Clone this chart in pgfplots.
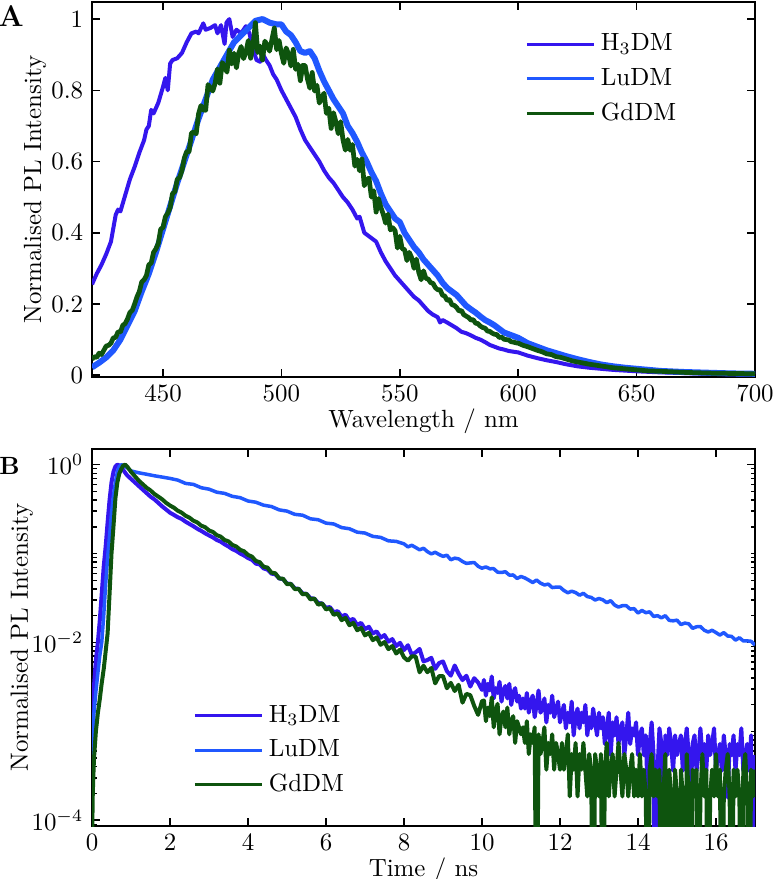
\documentclass[border=0pt]{standalone}
\usepackage{pgfplots}
\pgfplotsset{compat=1.18}
\usepackage{pgfplotstable}

\definecolor{hdm}{RGB}{52,22,238}
\definecolor{ludm}{RGB}{32,88,255}
\definecolor{gddm}{RGB}{14,84,14}

% ---------- steady-state PL spectra ----------
\pgfplotstableread{
x y
420 0.255
422 0.285
424 0.31
426 0.34
428 0.375
430 0.45
431 0.465
432 0.46
434 0.505
436 0.55
438 0.585
440 0.625
442 0.66
443 0.69
444 0.70
445 0.745
446 0.735
448 0.765
450 0.81
451 0.835
452 0.80
453 0.875
454 0.885
456 0.89
458 0.905
460 0.935
462 0.96
464 0.965
465 0.96
467 0.988
468 0.97
470 0.975
472 0.983
473 0.96
474.5 0.983
476 0.93
476.8 0.99
478 1.0
479.4 0.95
481 0.97
483 0.96
485 0.98
486.5 0.96
488 0.915
489.5 0.885
491 0.88
492 0.903
493.5 0.885
495 0.87
496.5 0.845
498 0.83
500 0.80
502 0.775
504 0.75
506 0.725
508 0.69
510 0.66
512 0.64
514 0.62
516 0.60
518 0.575
520 0.555
522 0.54
524 0.52
526 0.50
528 0.485
530 0.465
532 0.44
533 0.445
535 0.40
537 0.39
540 0.375
542 0.345
544 0.32
546 0.30
548 0.28
550 0.265
552 0.25
554 0.235
556 0.22
558 0.21
560 0.195
562 0.18
564 0.17
566 0.163
567 0.148
568 0.155
570 0.148
572 0.14
574 0.132
576 0.122
578 0.118
580 0.112
582 0.105
584 0.10
586 0.093
588 0.085
590 0.08
592 0.075
594 0.072
596 0.068
598 0.066
600 0.064
604 0.055
608 0.048
612 0.042
616 0.037
620 0.031
625 0.025
630 0.021
635 0.018
640 0.015
645 0.013
650 0.011
660 0.008
670 0.006
680 0.004
690 0.003
700 0.002
}\specH

\pgfplotstableread{
x y
420 0.022
423 0.035
426 0.05
429 0.07
432 0.10
435 0.14
438 0.18
441 0.235
444 0.285
447 0.345
450 0.41
453 0.475
456 0.54
459 0.60
462 0.66
465 0.72
468 0.775
471 0.83
474 0.865
477 0.90
480 0.935
483 0.955
486 0.975
489 0.995
492 1.0
495 0.99
498 0.985
500 0.985
502 0.965
504 0.955
506 0.935
508 0.91
510 0.905
512 0.91
514 0.89
516 0.855
518 0.825
520 0.80
522 0.775
524 0.755
526 0.735
528 0.70
530 0.68
532 0.655
534 0.625
536 0.60
538 0.57
540 0.545
542 0.51
544 0.48
546 0.46
548 0.44
550 0.43
552 0.40
554 0.38
556 0.36
558 0.345
560 0.325
562 0.31
564 0.295
566 0.28
568 0.26
570 0.245
572 0.235
574 0.225
576 0.21
578 0.195
580 0.185
582 0.176
584 0.165
586 0.155
588 0.148
590 0.14
592 0.13
594 0.12
596 0.115
598 0.11
600 0.105
604 0.09
608 0.08
612 0.07
616 0.062
620 0.054
625 0.045
630 0.037
635 0.03
640 0.025
645 0.021
650 0.018
655 0.015
660 0.012
670 0.009
680 0.007
690 0.005
700 0.004
}\specL

\pgfplotstableread{
x y
420 0.045
421 0.052
422 0.05
423 0.062
424 0.058
425 0.07
426 0.082
427 0.084
428 0.09
429 0.105
430 0.106
431 0.122
432 0.121
433 0.14
434 0.145
435 0.158
436 0.176
437 0.182
438 0.2
439 0.22
440 0.235
441 0.262
442 0.268
443 0.28
444 0.31
445 0.315
446 0.345
447 0.355
448 0.37
449 0.41
450 0.415
451 0.445
452 0.455
453 0.47
454 0.51
455 0.515
456 0.55
457 0.555
458 0.575
459 0.61
460 0.628
461 0.628
462 0.68
463 0.683
464 0.678
465 0.734
466 0.757
467 0.745
468 0.744
469 0.816
470 0.807
471 0.798
472 0.82
473 0.86
474 0.82
475 0.878
476 0.866
477 0.851
478 0.913
479 0.874
480 0.904
481 0.863
482 0.905
483 0.923
484 0.889
485 0.906
486 0.94
487 0.89
488 0.926
489 0.99
490 0.906
491 0.924
492 0.885
493 0.938
494 0.927
495 0.91
496 0.943
497 0.975
498 0.914
499 0.94
500 0.903
501 0.876
502 0.919
503 0.902
504 0.868
505 0.915
506 0.859
507 0.873
508 0.827
509 0.87
510 0.87
511 0.832
512 0.806
513 0.85
514 0.798
515 0.814
516 0.764
517 0.78
518 0.792
519 0.735
520 0.75
521 0.693
522 0.737
523 0.711
524 0.678
525 0.712
526 0.661
527 0.632
528 0.662
529 0.632
530 0.648
531 0.587
532 0.606
533 0.574
534 0.607
535 0.532
536 0.55
537 0.553
538 0.5
539 0.518
540 0.458
541 0.496
542 0.471
543 0.452
544 0.427
545 0.452
546 0.408
547 0.414
548 0.406
549 0.357
550 0.39
551 0.355
552 0.353
553 0.322
554 0.345
555 0.33
556 0.30
557 0.326
558 0.289
559 0.268
560 0.293
561 0.272
562 0.27
563 0.26
564 0.258
565 0.246
566 0.24
567 0.24
568 0.225
569 0.222
570 0.21
571 0.212
572 0.198
573 0.196
574 0.19
575 0.18
576 0.182
577 0.17
578 0.166
579 0.162
580 0.155
581 0.156
582 0.146
583 0.145
584 0.138
585 0.134
586 0.132
587 0.124
588 0.123
589 0.118
590 0.115
591 0.114
592 0.106
593 0.107
594 0.101
595 0.10
596 0.099
597 0.094
598 0.093
599 0.091
600 0.09
602 0.084
604 0.08
606 0.075
608 0.07
610 0.066
612 0.06
614 0.058
616 0.052
618 0.05
620 0.046
623 0.04
626 0.036
630 0.031
635 0.026
640 0.021
645 0.018
650 0.015
655 0.012
660 0.011
670 0.008
680 0.006
690 0.005
700 0.004
}\specG

% ---------- time-resolved PL decays ----------
\pgfplotstableread{
t y
0.00 7.0e-4
0.03 2.3e-3
0.05 3.2e-3
0.10 6.3e-3
0.15 1.0e-2
0.20 1.78e-2
0.25 3.55e-2
0.30 7.1e-2
0.35 0.12
0.40 0.224
0.45 0.40
0.50 0.63
0.55 0.83
0.60 0.955
0.65 1.0
0.70 0.98
0.80 0.871
0.90 0.76
1.00 0.692
1.10 0.631
1.20 0.575
1.30 0.525
1.40 0.479
1.50 0.437
1.60 0.407
1.70 0.372
1.80 0.339
1.90 0.313
2.00 0.288
2.10 0.272
2.20 0.256
2.30 0.245
2.40 0.228
2.50 0.215
2.60 0.203
2.70 0.190
2.80 0.180
2.90 0.169
3.00 0.160
3.10 0.152
3.20 0.142
3.30 0.136
3.40 0.127
3.50 0.120
3.60 0.112
3.70 0.107
3.80 0.100
3.90 0.095
4.00 0.089
4.10 0.085
4.20 0.077
4.30 0.0755
4.40 0.068
4.50 0.066
4.60 0.0595
4.70 0.0585
4.80 0.0525
4.90 0.0515
5.00 0.046
5.10 0.0455
5.20 0.0405
5.30 0.040
5.40 0.0355
5.50 0.0352
5.60 0.0315
5.70 0.031
5.80 0.0278
5.90 0.0274
6.00 0.0245
6.10 0.0250
6.20 0.0218
6.30 0.0225
6.40 0.0195
6.50 0.0205
6.60 0.0176
6.70 0.0184
6.80 0.0157
6.90 0.0166
7.00 0.0141
7.10 0.0150
7.20 0.0126
7.30 0.0133
7.40 0.0113
7.50 0.0121
7.60 0.0102
7.70 0.0109
7.80 0.0091
7.90 0.0099
8.00 0.0082
8.10 0.0093
8.20 0.00726
8.30 0.00774
8.40 0.00844
8.50 0.00612
8.60 0.00634
8.70 0.00671
8.80 0.00504
8.90 0.00586
9.00 0.00611
9.10 0.00475
9.20 0.00423
9.30 0.0055
9.40 0.00445
9.50 0.00377
9.60 0.00422
9.70 0.00319
9.80 0.00396
9.90 0.00354
10.00 0.00292
10.05 3.78e-3
10.10 2.52e-3
10.15 3.42e-3
10.20 2.88e-3
10.25 4.14e-3
10.30 2.34e-3
10.35 3.06e-3
10.40 2.70e-3
10.45 3.60e-3
10.50 2.16e-3
10.55 2.88e-3
10.60 3.24e-3
10.65 2.34e-3
10.70 3.42e-3
10.75 1.98e-3
10.80 2.70e-3
10.85 3.06e-3
10.90 2.16e-3
10.95 2.52e-3
11.00 1.80e-3
11.05 2.34e-3
11.10 1.80e-3
11.15 2.70e-3
11.20 1.62e-3
11.25 2.16e-3
11.30 2.52e-3
11.35 1.44e-3
11.40 1.98e-3
11.45 2.88e-3
11.50 1.62e-3
11.55 1.80e-3
11.60 2.34e-3
11.65 1.26e-3
11.70 1.98e-3
11.75 1.62e-3
11.80 2.52e-3
11.85 1.44e-3
11.90 1.80e-3
11.95 2.16e-3
12.00 1.26e-3
12.05 1.62e-3
12.10 1.98e-3
12.15 1.08e-3
12.20 1.62e-3
12.25 1.26e-3
12.30 2.16e-3
12.35 9.0e-4
12.40 1.44e-3
12.45 1.80e-3
12.50 1.08e-3
12.55 1.62e-3
12.60 1.26e-3
12.65 1.98e-3
12.70 9.0e-4
12.75 1.44e-3
12.80 1.08e-3
12.85 1.80e-3
12.90 1.26e-3
12.95 9.0e-4
13.00 1.62e-3
13.05 1.08e-3
13.10 1.44e-3
13.15 7.2e-4
13.20 1.08e-3
13.25 1.62e-3
13.30 5.4e-4
13.35 1.26e-3
13.40 9.0e-4
13.45 1.44e-3
13.50 7.2e-4
13.55 1.08e-3
13.60 1.26e-3
13.65 5.4e-4
13.70 9.0e-4
13.75 1.62e-3
13.80 7.2e-4
13.85 1.08e-3
13.90 9.0e-4
13.95 1.26e-3
14.00 5.4e-4
14.05 9.0e-4
14.10 1.08e-3
14.15 5.4e-4
14.20 9.0e-4
14.25 1.8e-4
14.30 7.2e-4
14.35 1.26e-3
14.40 5.4e-4
14.45 1e-6
14.50 3.6e-4
14.55 1.08e-3
14.60 7.2e-4
14.65 1e-6
14.70 9.0e-4
14.75 5.4e-4
14.80 1.08e-3
14.85 7.2e-4
14.90 3.6e-4
14.95 9.0e-4
15.00 5.4e-4
15.05 7.2e-4
15.10 9.0e-4
15.15 3.6e-4
15.20 7.2e-4
15.25 1.08e-3
15.30 5.4e-4
15.35 1.8e-4
15.40 7.2e-4
15.45 9.0e-4
15.50 3.6e-4
15.55 5.4e-4
15.60 1.08e-3
15.65 5.4e-4
15.70 7.2e-4
15.75 3.6e-4
15.80 9.0e-4
15.85 5.4e-4
15.90 7.2e-4
15.95 1.08e-3
16.00 3.6e-4
16.05 5.4e-4
16.10 7.2e-4
16.15 3.6e-4
16.20 9.0e-4
16.25 5.4e-4
16.30 1.8e-4
16.35 7.2e-4
16.40 5.4e-4
16.45 9.0e-4
16.50 3.6e-4
16.55 7.2e-4
16.60 5.4e-4
16.65 1.08e-3
16.70 3.6e-4
16.75 5.4e-4
16.80 7.2e-4
16.85 3.6e-4
16.90 9.0e-4
16.95 1e-6
17.00 5.4e-4
}\decH

\pgfplotstableread{
t y
0.00 5.0e-4
0.05 1.6e-3
0.10 2.8e-3
0.15 4.5e-3
0.20 7.1e-3
0.25 1.0e-2
0.30 2.0e-2
0.35 4.5e-2
0.40 8.9e-2
0.45 0.158
0.50 0.282
0.55 0.447
0.60 0.631
0.65 0.832
0.70 0.955
0.75 1.0
0.80 0.977
0.90 0.925
1.00 0.85
1.20 0.81
1.40 0.78
1.60 0.75
1.80 0.725
2.0 0.700
2.2 0.67
2.4 0.615
2.6 0.60
2.8 0.55
3.0 0.53
3.2 0.49
3.4 0.475
3.6 0.44
3.8 0.425
4.0 0.39
4.2 0.378
4.4 0.35
4.6 0.338
4.8 0.31
5.0 0.30
5.2 0.276
5.4 0.27
5.6 0.246
5.8 0.24
6.0 0.22
6.2 0.215
6.4 0.196
6.6 0.19
6.8 0.174
7.0 0.17
7.2 0.156
7.4 0.152
7.6 0.139
7.8 0.137
8.0 0.1285
8.1 0.1188
8.2 0.1238
8.3 0.1169
8.4 0.1102
8.5 0.1147
8.6 0.1051
8.7 0.0991
8.8 0.1033
8.9 0.0975
9.0 0.0929
9.1 0.0958
9.2 0.0851
9.3 0.0887
9.4 0.0871
9.5 0.0814
9.6 0.0775
9.7 0.0785
9.8 0.0793
9.9 0.0719
10.0 0.0684
10.1 0.0707
10.2 0.0674
10.3 0.0675
10.4 0.0617
10.5 0.0612
10.6 0.0625
10.7 0.0572
10.8 0.0574
10.9 0.0524
11.0 0.0552
11.1 0.0531
11.2 0.0502
11.3 0.0472
11.4 0.0503
11.5 0.0465
11.6 0.0443
11.7 0.0453
11.8 0.0414
11.9 0.0419
12.0 0.0419
12.1 0.0384
12.2 0.0362
12.3 0.0377
12.4 0.0364
12.5 0.0340
12.6 0.0357
12.7 0.0328
12.8 0.0321
12.9 0.0300
13.0 0.0312
13.1 0.0301
13.2 0.0280
13.3 0.0295
13.4 0.0263
13.5 0.0250
13.6 0.0259
13.7 0.0259
13.8 0.0237
13.9 0.0240
14.0 0.0214
14.1 0.0229
14.2 0.0216
14.3 0.0221
14.4 0.0196
14.5 0.0200
14.6 0.0189
14.7 0.0200
14.8 0.0177
14.9 0.0175
15.0 0.0178
15.1 0.0159
15.2 0.0165
15.3 0.0162
15.4 0.0144
15.5 0.0150
15.6 0.0151
15.7 0.0137
15.8 0.0131
15.9 0.0137
16.0 0.0129
16.1 0.0121
16.2 0.0129
16.3 0.0118
16.4 0.0117
16.5 0.0106
16.6 0.0113
16.7 0.0104
16.8 0.0104
16.9 0.0103
17.0 0.0093
}\decL

\pgfplotstableread{
t y
0.00 5.0e-5
0.02 2.0e-4
0.05 4.9e-4
0.10 1.0e-3
0.15 1.6e-3
0.20 2.3e-3
0.25 3.5e-3
0.30 5.0e-3
0.35 7.9e-3
0.40 1.26e-2
0.45 3.5e-2
0.50 0.10
0.55 0.20
0.60 0.417
0.65 0.631
0.70 0.794
0.75 0.891
0.80 0.977
0.85 1.0
0.90 0.955
1.00 0.832
1.10 0.741
1.20 0.661
1.30 0.603
1.40 0.550
1.50 0.513
1.60 0.468
1.70 0.437
1.80 0.407
1.90 0.372
2.00 0.347
2.10 0.328
2.20 0.303
2.30 0.288
2.40 0.266
2.50 0.253
2.60 0.234
2.70 0.224
2.80 0.206
2.90 0.198
3.00 0.182
3.10 0.175
3.20 0.161
3.30 0.155
3.40 0.142
3.50 0.137
3.60 0.125
3.70 0.120
3.80 0.110
3.90 0.106
4.00 0.0965
4.10 0.0925
4.20 0.0825
4.30 0.080
4.40 0.0710
4.50 0.0695
4.60 0.0610
4.70 0.0600
4.80 0.0525
4.90 0.0520
5.00 0.0452
5.10 0.0455
5.20 0.0398
5.30 0.0400
5.40 0.0348
5.50 0.0352
5.60 0.0305
5.70 0.0312
5.80 0.0266
5.90 0.0275
6.00 0.0235
6.10 0.0243
6.20 0.0204
6.30 0.0213
6.40 0.0178
6.50 0.0189
6.60 0.0156
6.70 0.0166
6.80 0.0137
6.90 0.0146
7.00 0.0120
7.10 0.0128
7.20 0.0106
7.30 0.0114
7.40 0.0094
7.50 0.0101
7.60 0.0084
7.70 0.0091
7.80 0.0075
7.90 0.0083
8.00 0.0068
8.10 0.00623
8.20 0.00698
8.30 0.00693
8.40 0.00461
8.50 0.00546
8.60 0.00462
8.70 0.00516
8.80 0.00346
8.90 0.00418
9.00 0.00418
9.10 0.00305
9.20 0.00351
9.30 0.00284
9.40 0.00334
9.50 0.0021
9.60 0.00264
9.70 0.00255
9.80 0.00193
9.90 0.00153
10.00 0.00218
10.05 2.22e-3
10.10 1.30e-3
10.15 1.85e-3
10.20 1.48e-3
10.25 2.41e-3
10.30 1.11e-3
10.35 1.67e-3
10.40 2.04e-3
10.45 9.25e-4
10.50 1.48e-3
10.55 1.67e-3
10.60 1.11e-3
10.65 1.85e-3
10.70 9.25e-4
10.75 1.30e-3
10.80 1.48e-3
10.85 7.4e-4
10.90 1.30e-3
10.95 1.11e-3
11.00 9.25e-4
11.05 1.11e-3
11.10 7.4e-4
11.15 1.30e-3
11.20 5.55e-4
11.25 9.25e-4
11.30 7.4e-4
11.35 1.11e-3
11.40 1e-6
11.45 9.25e-4
11.50 5.55e-4
11.55 7.4e-4
11.60 1.11e-3
11.65 3.7e-4
11.70 7.4e-4
11.75 5.55e-4
11.80 9.25e-4
11.85 3.7e-4
11.90 7.4e-4
11.95 5.55e-4
12.00 3.7e-4
12.05 7.4e-4
12.10 3.7e-4
12.15 5.55e-4
12.20 9.25e-4
12.25 1.85e-4
12.30 5.55e-4
12.35 3.7e-4
12.40 7.4e-4
12.45 1.85e-4
12.50 5.55e-4
12.55 3.7e-4
12.60 7.4e-4
12.65 3.7e-4
12.70 1.85e-4
12.75 5.55e-4
12.80 3.7e-4
12.85 1e-6
12.90 5.55e-4
12.95 3.7e-4
13.00 1.85e-4
13.05 5.55e-4
13.10 1e-6
13.15 3.7e-4
13.20 7.4e-4
13.25 1.85e-4
13.30 3.7e-4
13.35 5.55e-4
13.40 1.85e-4
13.45 3.7e-4
13.50 7.4e-4
13.55 3.7e-4
13.60 1.85e-4
13.65 5.55e-4
13.70 3.7e-4
13.75 1.85e-4
13.80 3.7e-4
13.85 5.55e-4
13.90 1.85e-4
13.95 3.7e-4
14.00 1.85e-4
14.05 5.55e-4
14.10 1.85e-4
14.15 3.7e-4
14.20 1.85e-4
14.25 1e-6
14.30 3.7e-4
14.35 5.55e-4
14.40 1.85e-4
14.45 3.7e-4
14.50 1.85e-4
14.55 3.7e-4
14.60 1e-6
14.65 1.85e-4
14.70 5.55e-4
14.75 1e-6
14.80 3.7e-4
14.85 1.85e-4
14.90 1e-6
14.95 3.7e-4
15.00 1.85e-4
15.05 1e-6
15.10 3.7e-4
15.15 1.85e-4
15.20 1e-6
15.25 5.55e-4
15.30 1.85e-4
15.35 1e-6
15.40 3.7e-4
15.45 1.85e-4
15.50 3.7e-4
15.55 1e-6
15.60 1.85e-4
15.65 5.55e-4
15.70 1.85e-4
15.75 3.7e-4
15.80 1e-6
15.85 1.85e-4
15.90 3.7e-4
15.95 1.85e-4
16.00 5.55e-4
16.05 1.85e-4
16.10 3.7e-4
16.15 1e-6
16.20 1.85e-4
16.25 3.7e-4
16.30 5.55e-4
16.35 1.85e-4
16.40 1e-6
16.45 3.7e-4
16.50 1.85e-4
16.55 3.7e-4
16.60 1.85e-4
16.65 1e-6
16.70 3.7e-4
16.75 5.55e-4
16.80 1.85e-4
16.85 1e-6
16.90 3.7e-4
16.95 1.85e-4
17.00 3.7e-4
}\decG

\pgfplotsset{
  panel/.style={
    scale only axis,
    width=265.2bp,
    anchor=south west,
    tick align=inside,
    major tick length=3.2bp,
    minor tick length=1.8bp,
    every tick/.style={black, line width=0.6bp},
    axis line style={line width=0.8bp},
    tick label style={font=\normalsize},
    label style={font=\normalsize},
    xlabel style={yshift=4.2bp},
    legend cell align=left,
    legend style={draw=none, fill=none, font=\normalsize,
      inner sep=0pt, row sep=1.5pt},
    legend image code/.code={\draw[##1, line width=1.2bp] (0bp,0bp) -- (27bp,0bp);},
    no markers,
    every axis plot/.append style={line join=round},
  }
}

\begin{document}
\begin{tikzpicture}
\useasboundingbox (0,0) rectangle (309.2bp,351.6bp);

% Panel A: emission spectra
\begin{axis}[panel,
  at={(36.8bp,200.8bp)},
  height=150bp,
  xmin=420, xmax=700,
  ymin=-0.005, ymax=1.048,
  xtick={450,500,550,600,650,700},
  ytick={0,0.2,0.4,0.6,0.8,1},
  yticklabels={0,0.2,0.4,0.6,0.8,1},
  xlabel={Wavelength / nm},
  ylabel={Normalised PL Intensity},
  ylabel style={at={(axis description cs:-0.086,0.5)}, anchor=center, rotate=0},
  legend style={at={(0.653,0.93)}, anchor=north west},
]
\addplot[hdm, line width=1.6bp] table[x=x, y=y] {\specH};
\addlegendentry{H$_3$DM}
\addplot[ludm, line width=2.4bp] table[x=x, y=y] {\specL};
\addlegendentry{LuDM}
\addplot[gddm, line width=1.9bp] table[x=x, y=y] {\specG};
\addlegendentry{GdDM}
\end{axis}

% Panel B: PL decays
\begin{axis}[panel,
  at={(36.8bp,21.2bp)},
  height=150.8bp,
  ymode=log,
  xmin=0, xmax=17,
  ymin=8.6e-5, ymax=1.5,
  xtick={0,2,4,6,8,10,12,14,16},
  ytick={1e-4,1e-2,1},
  minor ytick={9e-5,2e-4,3e-4,4e-4,5e-4,6e-4,7e-4,8e-4,9e-4,1e-3,2e-3,3e-3,4e-3,5e-3,6e-3,7e-3,8e-3,9e-3,2e-2,3e-2,4e-2,5e-2,6e-2,7e-2,8e-2,9e-2,1e-1,2e-1,3e-1,4e-1,5e-1,6e-1,7e-1,8e-1,9e-1},
  xlabel={Time / ns},
  ylabel={Normalised PL Intensity},
  ylabel style={at={(axis description cs:-0.106,0.5)}, anchor=center, rotate=0},
  legend style={at={(0.152,0.335)}, anchor=north west},
]
\addplot[hdm, line width=1.6bp] table[x=t, y=y] {\decH};
\addlegendentry{H$_3$DM}
\addplot[ludm, line width=1.4bp] table[x=t, y=y] {\decL};
\addlegendentry{LuDM}
\addplot[gddm, line width=1.6bp] table[x=t, y=y] {\decG};
\addlegendentry{GdDM}
\end{axis}

\node[font=\large\bfseries] at (4.4bp,345.2bp) {A};
\node[font=\bfseries] at (3.8bp,165.4bp) {B};
\end{tikzpicture}
\end{document}
